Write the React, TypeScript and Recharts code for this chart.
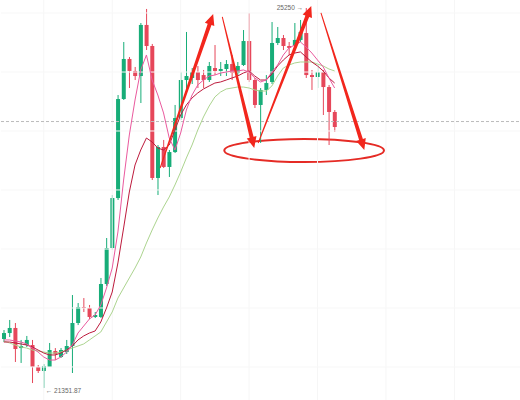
import {
  ComposedChart,
  Bar,
  Line,
  XAxis,
  YAxis,
  ReferenceLine,
  ReferenceArea,
  ReferenceDot,
} from 'recharts';

// candle values (price units)
const opens = [
  21854, 21915, 21967, 21761, 21792, 21792, 21567, 21526, 21567, 21731,
  21669, 21720, 21782, 22018, 22182, 22172, 22080, 22080, 22418, 22787,
  23300, 24316, 24727, 24604, 24552, 25076, 24860, 23506, 23824, 23619,
  23772, 24121, 24511, 24532, 24593, 24562, 24511, 24634, 24604, 24624,
  24675, 24583, 24665, 24911, 24511, 24255, 24409, 24491, 24891, 24942,
  24860, 24860, 24922, 24993, 24562, 24542, 24593, 24439, 24183,
];
const closes = [
  21915, 21967, 21751, 21782, 21844, 21567, 21526, 21577, 21741, 21700,
  21741, 21782, 22018, 22182, 22172, 22080, 22100, 22418, 22787, 23300,
  24316, 24727, 24604, 24552, 25076, 24860, 23506, 23824, 23619, 23772,
  24121, 24511, 24552, 24593, 24511, 24511, 24655, 24604, 24624, 24675,
  24583, 24655, 24911, 24511, 24255, 24409, 24480, 24891, 24942, 24860,
  24840, 24922, 25004, 24562, 24542, 24593, 24439, 24183, 24029,
];
const highs = [
  21946, 22049, 22018, 21844, 21885, 21844, 21587, 21597, 21813, 21761,
  21761, 21844, 22305, 22223, 22274, 22203, 22131, 22480, 22890, 23331,
  24357, 24901, 24747, 24645, 25096, 25240, 24881, 23844, 23896, 23793,
  24255, 24593, 25004, 24634, 24655, 24614, 24696, 24870, 24696, 24716,
  24768, 24696, 25024, 25199, 24532, 24429, 24562, 25106, 25055, 24973,
  24901, 25096, 25127, 25250, 24614, 24665, 24614, 24460, 24203,
];
const lows = [
  21823, 21874, 21618, 21608, 21772, 21402, 21505, 21351.87, 21567, 21638,
  21659, 21700, 21505, 21997, 22131, 22059, 22069, 22069, 22398, 22767,
  23280, 24306, 24429, 24511, 24275, 24819, 23485, 23331, 23608, 23516,
  23762, 24101, 24409, 24470, 24429, 24429, 24491, 24562, 24552, 24552,
  24511, 24552, 24655, 24491, 24224, 23865, 24357, 24470, 24870, 24819,
  24768, 24840, 24901, 24532, 24409, 24429, 24152, 23844, 23978,
];

// moving average lines as drawn
const maFast = [
  21844, 21844, 21833, 21823, 21803, 21761, 21720, 21669, 21638, 21638,
  21669, 21720, 21792, 21915, 21987, 22059, 22100, 22203, 22377, 22582,
  22952, 23485, 23947, 24306, 24614, 24768, 24511, 24357, 24173, 23916,
  23793, 23967, 24203, 24357, 24460, 24511, 24552, 24562, 24583, 24593,
  24604, 24604, 24614, 24593, 24532, 24491, 24511, 24593, 24665, 24768,
  24840, 24870, 24901, 24850, 24788, 24716, 24645, 24532, 24429,
];
const maMid = [
  21823, 21823, 21813, 21803, 21792, 21772, 21741, 21710, 21690, 21690,
  21710, 21741, 21782, 21844, 21885, 21915, 21936, 22028, 22172, 22336,
  22634, 22993, 23362, 23639, 23793, 23916, 23875, 23813, 23793, 23844,
  23998, 24152, 24255, 24327, 24378, 24419, 24450, 24480, 24491, 24511,
  24532, 24552, 24583, 24604, 24552, 24511, 24511, 24573, 24655, 24716,
  24768, 24788, 24799, 24747, 24696, 24655, 24604, 24532, 24480,
];
const maSlow = [
  21833, 21813, 21792, 21772, 21761, 21741, 21731, 21720, 21710, 21710,
  21720, 21741, 21761, 21782, 21803, 21844, 21885, 21926, 22028, 22131,
  22274, 22377, 22480, 22582, 22695, 22839, 22972, 23095, 23208, 23311,
  23434, 23567, 23711, 23844, 23998, 24132, 24244, 24337, 24388, 24419,
  24429, 24439, 24439, 24429, 24409, 24398, 24398, 24450, 24552, 24634,
  24665, 24686, 24696, 24696, 24696, 24675, 24655, 24624, 24604,
];

const SLOTS = 91;
const gridX = [7, 19, 31, 43, 55, 67, 79];
const gridY = [25199, 24593, 23988, 23383, 22777, 22172, 21567];
const priceLine = 24085;

// annotation arrows: [x index, price] tail -> head
const arrows = [
  [[27.4, 23608], [36.7, 25188]],
  [[38.3, 25158], [43.9, 23814]],
  [[44.6, 23865], [53.9, 25270]],
  [[55.6, 25199], [63.2, 23793]],
];

const UP = '#17ad78';
const DOWN = '#e6475a';

const data = Array.from({ length: SLOTS }, (_, i) => {
  if (i >= opens.length) return { i };
  return {
    i,
    open: opens[i],
    close: closes[i],
    high: highs[i],
    low: lows[i],
    range: [lows[i], highs[i]],
    maFast: maFast[i],
    maMid: maMid[i],
    maSlow: maSlow[i],
  };
});

function Candle(props: any) {
  const { x, y, width, height, payload } = props;
  if (!payload || payload.open == null) return null;
  const { open, close, high, low } = payload;
  const top = Math.min(y, y + height);
  const h = Math.abs(height);
  const py = (v: number) => top + ((high - v) / (high - low)) * h;
  const color = close >= open ? UP : DOWN;
  const cx = x + width / 2;
  const bTop = py(Math.max(open, close));
  const bH = Math.max(1, py(Math.min(open, close)) - bTop);
  return (
    <g>
      <line x1={cx} x2={cx} y1={top} y2={top + h} stroke={color} strokeWidth={1} />
      <rect x={cx - 2} y={bTop} width={4} height={bH} fill={color} />
    </g>
  );
}

function Arrow(props: any) {
  const { x1, y1, x2, y2 } = props;
  const dx = x2 - x1;
  const dy = y2 - y1;
  const len = Math.hypot(dx, dy) || 1;
  const ux = dx / len;
  const uy = dy / len;
  const nx = -uy;
  const ny = ux;
  const headLen = 11;
  const bx = x2 - ux * headLen;
  const by = y2 - uy * headLen;
  const pts = [
    [x1 + nx * 0.5, y1 + ny * 0.5],
    [bx + nx * 2, by + ny * 2],
    [bx + nx * 5, by + ny * 5],
    [x2, y2],
    [bx - nx * 5, by - ny * 5],
    [bx - nx * 2, by - ny * 2],
    [x1 - nx * 0.5, y1 - ny * 0.5],
  ];
  return <polygon points={pts.map((p) => p.join(',')).join(' ')} fill="#f2261c" />;
}

function Ellipse(props: any) {
  const { x, y, width, height } = props;
  return (
    <ellipse
      cx={x + width / 2}
      cy={y + height / 2}
      rx={width / 2}
      ry={height / 2}
      fill="none"
      stroke="#e52b25"
      strokeWidth={2}
    />
  );
}

const labelFont = "'Liberation Sans', Arial, sans-serif";

export default function App() {
  return (
    <div style={{ position: 'absolute', left: 0, top: 0, background: '#fff' }}>
      <ComposedChart
        width={520}
        height={400}
        data={data}
        margin={{ top: 0, right: 0, bottom: 0, left: 1 }}
      >
        <XAxis xAxisId="c" dataKey="i" hide />
        <XAxis
          xAxisId="n"
          dataKey="i"
          type="number"
          domain={[-0.5, SLOTS - 0.5]}
          allowDataOverflow
          hide
        />
        <YAxis domain={[21228, 25332]} allowDataOverflow hide />

        {gridX.map((gx) => (
          <ReferenceLine key={'gx' + gx} xAxisId="n" x={gx} stroke="#f6f6f6" />
        ))}
        {gridY.map((gy) => (
          <ReferenceLine key={'gy' + gy} xAxisId="n" y={gy} stroke="#f7f7f7" />
        ))}
        <ReferenceLine xAxisId="n" y={priceLine} stroke="#bbbbbb" strokeDasharray="3 2" />

        <Bar
          xAxisId="c"
          dataKey="range"
          barSize={4}
          shape={<Candle />}
          isAnimationActive={false}
        />
        <Line
          xAxisId="c"
          dataKey="maSlow"
          stroke="#acd48f"
          strokeWidth={1}
          dot={false}
          type="linear"
          isAnimationActive={false}
        />
        <Line
          xAxisId="c"
          dataKey="maMid"
          stroke="#bd1a3c"
          strokeWidth={1}
          dot={false}
          type="linear"
          isAnimationActive={false}
        />
        <Line
          xAxisId="c"
          dataKey="maFast"
          stroke="#ea5a9e"
          strokeWidth={1}
          dot={false}
          type="linear"
          isAnimationActive={false}
        />

        <ReferenceArea
          xAxisId="n"
          x1={38.65}
          x2={66.65}
          y1={23670}
          y2={23906}
          ifOverflow="visible"
          shape={<Ellipse />}
        />
        {arrows.map(([a, b], k) => (
          <ReferenceLine
            key={'ar' + k}
            xAxisId="n"
            segment={[
              { x: a[0], y: a[1] },
              { x: b[0], y: b[1] },
            ]}
            ifOverflow="visible"
            shape={<Arrow />}
          />
        ))}

        <ReferenceDot
          xAxisId="n"
          x={53}
          y={25250}
          r={0}
          ifOverflow="visible"
          shape={(p: any) => (
            <text
              x={p.cx - 3}
              y={p.cy + 2.5}
              textAnchor="end"
              fontSize={6.5}
              fontFamily={labelFont}
              fill="#666"
            >
              25250 →
            </text>
          )}
        />
        <ReferenceDot
          xAxisId="n"
          x={7}
          y={21351.87}
          r={0}
          ifOverflow="visible"
          shape={(p: any) => (
            <text
              x={p.cx + 2}
              y={p.cy + 5.5}
              textAnchor="start"
              fontSize={6.5}
              fontFamily={labelFont}
              fill="#666"
            >
              ← 21351.87
            </text>
          )}
        />
      </ComposedChart>
    </div>
  );
}
